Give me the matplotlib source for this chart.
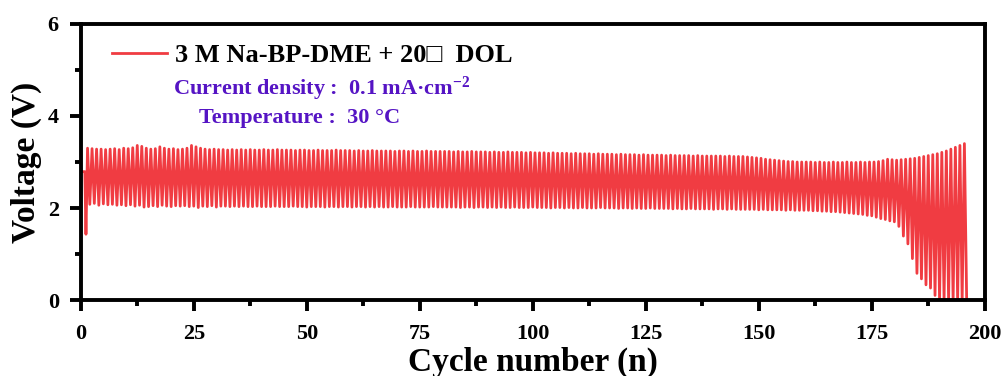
import numpy as np
import matplotlib
matplotlib.use('Agg')
import matplotlib.pyplot as plt
from matplotlib.ticker import MultipleLocator

plt.rcParams['font.family'] = ['Liberation Serif', 'DejaVu Sans']
plt.rcParams['font.weight'] = 'bold'
plt.rcParams['mathtext.fontset'] = 'custom'
plt.rcParams['mathtext.rm'] = 'Liberation Serif:bold'
plt.rcParams['mathtext.it'] = 'Liberation Serif:italic:bold'
plt.rcParams['mathtext.bf'] = 'Liberation Serif:bold'

#First part of the curve: rest ledge and first drop
start_cycle = [0.0, 0.85, 1.1]
start_volt = [2.79, 2.79, 1.43]

#Peak (charge) voltage of each cycle, cycles 1..195
upper = [3.30, 3.29, 3.28, 3.28, 3.27, 3.28, 3.29, 3.27, 3.30, 3.29,
         3.31, 3.36, 3.34, 3.30, 3.28, 3.29, 3.33, 3.30, 3.28, 3.29,
         3.27, 3.28, 3.30, 3.36, 3.33, 3.30, 3.28, 3.27, 3.28, 3.27,
         3.27, 3.26, 3.27, 3.26, 3.27, 3.26, 3.27, 3.26, 3.26, 3.27,
         3.26, 3.26, 3.27, 3.26, 3.26, 3.26, 3.25, 3.26, 3.26, 3.25,
         3.25, 3.26, 3.25, 3.25, 3.25, 3.26, 3.25, 3.25, 3.25, 3.24,
         3.25, 3.24, 3.24, 3.25, 3.24, 3.24, 3.24, 3.24, 3.23, 3.24,
         3.24, 3.23, 3.24, 3.23, 3.23, 3.24, 3.23, 3.23, 3.23, 3.23,
         3.23, 3.22, 3.23, 3.22, 3.22, 3.23, 3.22, 3.22, 3.22, 3.21,
         3.22, 3.21, 3.21, 3.22, 3.21, 3.21, 3.21, 3.20, 3.21, 3.20,
         3.20, 3.20, 3.19, 3.20, 3.19, 3.19, 3.19, 3.18, 3.19, 3.18,
         3.18, 3.18, 3.17, 3.18, 3.17, 3.17, 3.17, 3.16, 3.17, 3.16,
         3.16, 3.16, 3.15, 3.16, 3.15, 3.15, 3.15, 3.15, 3.14, 3.15,
         3.14, 3.14, 3.14, 3.14, 3.13, 3.14, 3.13, 3.13, 3.13, 3.13,
         3.13, 3.12, 3.13, 3.12, 3.12, 3.12, 3.11, 3.10, 3.09, 3.08,
         3.06, 3.05, 3.04, 3.03, 3.02, 3.01, 3.01, 3.00, 3.00, 3.00,
         3.00, 2.99, 3.00, 2.99, 2.99, 3.00, 2.99, 2.99, 3.00, 2.99,
         2.99, 3.00, 2.99, 3.00, 3.00, 3.01, 3.03, 3.06, 3.05, 3.04,
         3.05, 3.06, 3.07, 3.08, 3.10, 3.12, 3.14, 3.16, 3.18, 3.21,
         3.24, 3.28, 3.32, 3.36, 3.40]

#Trough (discharge) voltage of each cycle, cycles 1..195
lower = [2.08, 2.10, 2.06, 2.09, 2.07, 2.08, 2.06, 2.07, 2.05, 2.07,
         2.04, 2.06, 2.02, 2.03, 2.05, 2.03, 2.06, 2.04, 2.03, 2.05,
         2.04, 2.05, 2.03, 2.04, 2.01, 2.04, 2.03, 2.05, 2.02, 2.04,
         2.04, 2.03, 2.04, 2.03, 2.04, 2.03, 2.03, 2.04, 2.03, 2.03,
         2.03, 2.04, 2.03, 2.03, 2.03, 2.04, 2.03, 2.03, 2.02, 2.03,
         2.03, 2.03, 2.02, 2.03, 2.03, 2.02, 2.03, 2.03, 2.02, 2.03,
         2.03, 2.02, 2.03, 2.02, 2.03, 2.02, 2.02, 2.03, 2.02, 2.02,
         2.02, 2.03, 2.02, 2.02, 2.02, 2.02, 2.03, 2.02, 2.02, 2.02,
         2.02, 2.02, 2.01, 2.02, 2.02, 2.01, 2.02, 2.02, 2.01, 2.02,
         2.01, 2.02, 2.01, 2.01, 2.02, 2.01, 2.01, 2.01, 2.02, 2.01,
         2.01, 2.01, 2.00, 2.01, 2.01, 2.00, 2.01, 2.00, 2.00, 2.01,
         2.00, 2.00, 2.00, 2.01, 2.00, 2.00, 2.00, 1.99, 2.00, 2.00,
         1.99, 2.00, 1.99, 1.99, 2.00, 1.99, 1.99, 1.99, 1.99, 1.98,
         1.99, 1.98, 1.98, 1.99, 1.98, 1.98, 1.98, 1.98, 1.97, 1.98,
         1.98, 1.97, 1.98, 1.97, 1.97, 1.97, 1.97, 1.97, 1.96, 1.97,
         1.96, 1.96, 1.96, 1.96, 1.95, 1.96, 1.95, 1.95, 1.95, 1.95,
         1.94, 1.94, 1.93, 1.93, 1.92, 1.92, 1.91, 1.90, 1.89, 1.88,
         1.87, 1.86, 1.84, 1.83, 1.80, 1.77, 1.75, 1.72, 1.70, 1.60,
         1.39, 1.22, 0.90, 0.58, 0.46, 0.33, 0.26, 0.10, 0.0, 0.0,
         0.0, 0.0, 0.0, 0.0, 0.0]

legend_label = '3 M Na-BP-DME + 20\u25a1  DOL'
line_color = '#f03c42'
note_color = '#5514c4'

#Build the voltage profile: peak then trough for each cycle
cycles = np.arange(1, len(upper) + 1)
x_vals = list(start_cycle)
y_vals = list(start_volt)
for c, u, l in zip(cycles, upper, lower):
    x_vals += [c + 0.45, c + 0.95]
    y_vals += [u, l]

fig = plt.figure(figsize=(10.06, 3.76), dpi=100)
ax = fig.add_axes([0.0805, 0.2021, 0.8986, 0.7341])
ax.plot(x_vals, y_vals, color=line_color, lw=2.0, label=legend_label)

ax.set_xlim(0, 200)
ax.set_ylim(0, 6)
ax.xaxis.set_major_locator(MultipleLocator(25))
ax.xaxis.set_minor_locator(MultipleLocator(12.5))
ax.yaxis.set_major_locator(MultipleLocator(2))
ax.yaxis.set_minor_locator(MultipleLocator(1))
ax.tick_params(which='major', direction='out', length=8, width=2.8, labelsize=16)
ax.tick_params(which='minor', direction='out', length=4.5, width=2.8)
ax.tick_params(axis='x', which='major', pad=9)
ax.tick_params(axis='y', which='major', pad=8)
for s in ax.spines.values():
    s.set_linewidth(2.8)
for lab in ax.get_xticklabels() + ax.get_yticklabels():
    lab.set_fontweight('bold')

ax.set_xlabel('Cycle number (n)', fontsize=24, fontweight='bold', labelpad=2)
ax.set_ylabel('Voltage (V)', fontsize=24, fontweight='bold', labelpad=4)

ax.legend(loc='center left', bbox_to_anchor=(0.034, 0.885), frameon=False,
          fontsize=19, handlelength=2.1, handletextpad=0.3,
          borderpad=0, borderaxespad=0)
ax.text(0.102, 0.764, 'Current density :  0.1 mA\u00b7cm$^{-2}$', transform=ax.transAxes,
        color=note_color, fontsize=16, fontweight='bold', va='center', ha='left')
ax.text(0.1305, 0.659, 'Temperature :  30 \u00b0C', transform=ax.transAxes,
        color=note_color, fontsize=16, fontweight='bold', va='center', ha='left')

fig.savefig('out.png', dpi=100)
